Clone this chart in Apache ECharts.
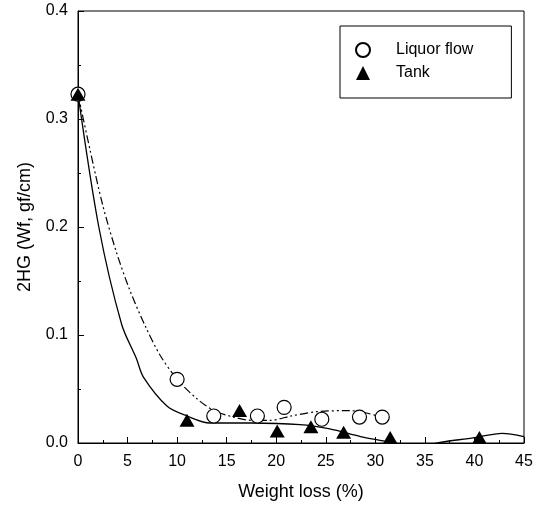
<!DOCTYPE html>
<html>
<head>
<meta charset="utf-8">
<script src="https://cdn.jsdelivr.net/npm/echarts@6/dist/echarts.min.js"></script>
<style>
  html, body { margin: 0; padding: 0; background: #fff; }
  #main { width: 542px; height: 506px; }
</style>
</head>
<body>
<div id="main"></div>
<script>
// measured points
var liquorX = [0, 10, 13.7, 18.1, 20.8, 24.6, 28.4, 30.7];
var liquorY = [0.323, 0.059, 0.025, 0.025, 0.033, 0.022, 0.024, 0.024];
var tankX = [0, 11, 16.3, 20.1, 23.5, 26.8, 31.5, 40.5];
var tankY = [0.323, 0.021, 0.030, 0.011, 0.015, 0.010, 0.005, 0.005];

// fitted curves
var liquorFitX = [0, 1.2, 2.5, 3.9, 5.25, 6.8, 8.3, 10, 12, 13.7, 15.7, 17.5, 19.4, 21.5, 24.1, 27.4, 29, 30.6];
var liquorFitY = [0.323, 0.272, 0.220, 0.176, 0.141, 0.108, 0.081, 0.059, 0.041, 0.030, 0.024, 0.021, 0.021, 0.025, 0.029, 0.030, 0.028, 0.024];
var tankFitX = [0, 2.1, 4.4, 5.9, 6.6, 9, 11, 13.3, 17.4, 22.4, 25.4, 28.5, 30.8, 33, 35, 36.5, 40, 42.8, 45];
var tankFitY = [0.323, 0.200, 0.110, 0.078, 0.061, 0.034, 0.025, 0.0185, 0.0185, 0.017, 0.013, 0.006, 0.002, -0.002, -0.002, 0.0005, 0.005, 0.009, 0.006];

var xTicks = [0, 5, 10, 15, 20, 25, 30, 35, 40, 45];
var yTicks = [0.0, 0.1, 0.2, 0.3, 0.4];

function pairs(xs, ys) {
    return xs.map(function (x, i) { return [x, ys[i]]; });
}

var myChart = echarts.init(document.getElementById('main'));

var font = 'Liberation Sans, Arial, sans-serif';

var option = {
    animation: false,
    backgroundColor: '#fff',
    grid: {
        left: 78, right: 18, top: 11, bottom: 62,
        show: true, borderColor: '#000', borderWidth: 1
    },
    legend: {
        left: 340, top: 26,
        orient: 'vertical',
        borderColor: '#000', borderWidth: 1,
        padding: [16, 38, 17, 15],
        itemWidth: 14, itemHeight: 14, itemGap: 7,
        textStyle: { fontFamily: font, fontSize: 16, color: '#000', padding: [0, 0, 0, 21] },
        data: [
            { name: 'Liquor flow', icon: 'circle' },
            { name: 'Tank', icon: 'triangle' }
        ]
    },
    xAxis: {
        type: 'value',
        min: xTicks[0], max: xTicks[xTicks.length - 1], interval: 5,
        name: 'Weight loss (%)',
        nameLocation: 'middle', nameGap: 40,
        nameTextStyle: { fontFamily: font, fontSize: 18, color: '#000' },
        axisLine: { onZero: false, lineStyle: { color: '#000', width: 1 } },
        axisTick: { inside: true, length: 6, lineStyle: { color: '#000' } },
        minorTick: { show: true, splitNumber: 2, length: 3, lineStyle: { color: '#000' } },
        splitLine: { show: false },
        axisLabel: { fontFamily: font, fontSize: 16, color: '#000', margin: 11 }
    },
    yAxis: {
        type: 'value',
        min: yTicks[0], max: yTicks[yTicks.length - 1], interval: 0.1,
        name: '2HG (Wf, gf/cm)',
        nameLocation: 'middle', nameGap: 44,
        nameTextStyle: { fontFamily: font, fontSize: 18, color: '#000' },
        axisLine: { onZero: false, lineStyle: { color: '#000', width: 1 } },
        axisTick: { inside: true, length: 6, lineStyle: { color: '#000' } },
        minorTick: { show: true, splitNumber: 2, length: 3, lineStyle: { color: '#000' } },
        splitLine: { show: false },
        axisLabel: {
            fontFamily: font, fontSize: 16, color: '#000', margin: 10,
            formatter: function (v) { return v.toFixed(1); }
        }
    },
    series: [
        {
            name: 'Liquor fit', type: 'line', smooth: 0.3, symbol: 'none',
            lineStyle: { color: '#000', width: 1.2, type: [8, 3, 2, 3, 2, 3] },
            data: pairs(liquorFitX, liquorFitY), z: 1
        },
        {
            name: 'Tank fit', type: 'line', smooth: 0.3, symbol: 'none',
            lineStyle: { color: '#000', width: 1.3 },
            data: pairs(tankFitX, tankFitY), z: 1
        },
        {
            name: 'Liquor flow', type: 'scatter', symbol: 'circle', symbolSize: 14,
            itemStyle: { color: '#fff', borderColor: '#000', borderWidth: 1.2, opacity: 1 },
            data: pairs(liquorX, liquorY), z: 3
        },
        {
            name: 'Tank', type: 'scatter', symbol: 'triangle', symbolSize: [15, 13],
            itemStyle: { color: '#000', opacity: 1 },
            data: pairs(tankX, tankY), z: 4
        }
    ]
};

myChart.setOption(option);
</script>
</body>
</html>
